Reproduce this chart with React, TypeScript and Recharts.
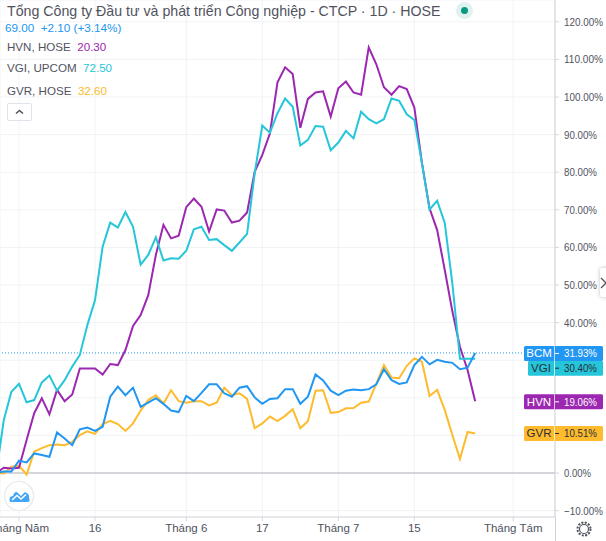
import React from "react";
import { ComposedChart, Line, XAxis, YAxis, CartesianGrid, ReferenceLine } from "recharts";

const bcmValues = [0, 0.4, 0.4, 3.3, 2.8, 5.2, 4.8, 4.3, 10.8, 9.2, 7.4, 11.6, 12.1, 11.2, 12.3, 20.3, 23, 20.7, 22.7, 17.6, 18.7, 19.9, 18.4, 16.6, 16.2, 20.5, 19.1, 21.3, 23.6, 23.6, 21.2, 20.3, 22.7, 23.1, 20.1, 18.4, 19.7, 19.9, 22.3, 22.3, 18.4, 20.3, 26.2, 24.6, 21.9, 20.7, 21.9, 22.2, 22, 22.3, 23.6, 27.6, 24.7, 23.7, 24.1, 28.7, 30.9, 28.9, 30.1, 29.6, 29.3, 27.6, 28, 31.93];
const vgiValues = [0, 14.1, 21.6, 23.7, 18.8, 19.4, 24.1, 25.9, 21.9, 24.7, 28.3, 31.4, 39.4, 46, 60.2, 66.6, 65.3, 69.4, 65.5, 55.4, 58, 62.7, 56.5, 57.1, 57, 59.1, 64.8, 65.5, 62, 62.2, 60.6, 59.1, 61.3, 63.6, 79.7, 92.4, 90.5, 95.7, 99.6, 97.4, 87.1, 88.6, 92.3, 92.1, 85.8, 87.9, 91, 89, 96.1, 94.1, 93, 94.1, 99.6, 99, 95.4, 93.9, 82.4, 70.1, 72.4, 66.5, 50.4, 30.4, 30.4, 30.4];
const hvnValues = [0, 1.4, 1.2, 1.4, 8.8, 15.9, 19.9, 15.6, 22.1, 19.1, 20.9, 27.8, 27.8, 27.8, 26.2, 29, 28.7, 32.7, 39.1, 42, 47.3, 58, 66, 62.4, 63.1, 70.7, 73, 70.8, 64.2, 70.1, 69.8, 66.6, 67.1, 69.3, 80.1, 84.6, 90.3, 103.9, 107.9, 106.1, 91.8, 99.5, 101.2, 101.5, 94.8, 102.3, 104.1, 101.2, 100.6, 113.2, 108.7, 102.6, 100.6, 102.9, 102.1, 97.2, 82.4, 70.4, 64.6, 54, 43, 33.5, 27.4, 19.06];
const gvrValues = [0, -0.1, 1.7, 1.9, -0.4, 5.7, 6.6, 7.4, 7.6, 7.4, 8.3, 10.1, 11.1, 10.4, 13, 13.9, 13, 11.2, 13.2, 16.6, 19.4, 20.7, 18.5, 22, 19.1, 18.7, 19.1, 19.1, 18, 18.7, 22.7, 20.7, 21.2, 19.7, 11.9, 13.2, 15, 13.8, 15.2, 17, 11.9, 13.8, 21.9, 22, 16, 16.2, 17.2, 17.3, 18.7, 19, 23.8, 28.7, 25.4, 25.2, 28.5, 30.5, 29.6, 20.5, 22.1, 16.8, 10.1, 3.7, 10.9, 10.51];

const xTickPositions = [3, 13, 25, 35, 45, 55, 68];
const xTickLabels = ["Tháng Năm", "16", "Tháng 6", "17", "Tháng 7", "15", "Tháng Tám"];
const yTicks = [-10, 0, 10, 20, 30, 40, 50, 60, 70, 80, 90, 100, 110, 120];
const yTicksCoveredByTags = [10, 20, 30];

const rows = bcmValues.map((bcm, i) => ({
  day: i,
  bcm,
  vgi: vgiValues[i],
  hvn: hvnValues[i],
  gvr: gvrValues[i],
}));

const FONT = "'Liberation Sans', Arial, sans-serif";
const BLUE = "#2196f3";
const CYAN = "#26c6da";
const PURPLE = "#9c27b0";
const YELLOW = "#fdbb2d";
const lastIndex = bcmValues.length - 1;

function tagLabel(name: string, text: string, color: string, ink: string, left: number, nudge: number) {
  return (props: any) => {
    if (props.index !== lastIndex) return null;
    const cy = props.y + nudge;
    return (
      <g key={name} style={{ fontFamily: FONT, fontSize: 11.5 }}>
        <rect x={left} y={cy - 7.5} width={603 - left} height={15} rx={1.5} fill={color} />
        <line x1={554.5} x2={554.5} y1={cy - 7.5} y2={cy + 7.5} stroke="#ffffff" strokeOpacity={0.7} />
        <line x1={555} x2={559} y1={cy} y2={cy} stroke={ink} />
        <text x={(left + 554) / 2} y={cy + 4} textAnchor="middle" fill={ink}>{name}</text>
        <text x={564} y={cy + 4} fill={ink} textLength={33} lengthAdjust="spacingAndGlyphs">{text}</text>
      </g>
    );
  };
}

const XTick = (props: any) => {
  const label = xTickLabels[xTickPositions.indexOf(props.payload.value)];
  return (
    <text x={props.x} y={532} textAnchor="middle" fontFamily={FONT} fontSize={11.5} fill="#50535e">{label}</text>
  );
};

const yLabelWidths: Record<number, number> = { 5: 27, 6: 33, 7: 39 };

const YTick = (props: any) => {
  if (yTicksCoveredByTags.includes(props.payload.value)) return <g />;
  const text = props.payload.value.toFixed(2).replace("-", "\u2212") + "%";
  return (
    <text x={564} y={props.y + 4} fontFamily={FONT} fontSize={11.5} fill="#50535e" textLength={yLabelWidths[text.length]} lengthAdjust="spacingAndGlyphs">
      {text}
    </text>
  );
};

const abs = (left: number, top: number, extra: React.CSSProperties = {}): React.CSSProperties => ({
  position: "absolute",
  left,
  top,
  whiteSpace: "nowrap",
  fontFamily: FONT,
  lineHeight: "16px",
  ...extra,
});

export default function App() {
  return (
    <div style={{ position: "relative", width: 606, height: 541, overflow: "hidden", background: "#fff" }}>
      <style>{"body{margin:0}"}</style>
      <ComposedChart width={606} height={541} data={rows} margin={{ top: 0, right: 0, bottom: 0, left: 0 }}>
        <CartesianGrid stroke="#f0f3f6" />
        <XAxis
          dataKey="day"
          type="number"
          domain={[0.5, 73.5]}
          allowDataOverflow
          ticks={xTickPositions}
          interval={0}
          tick={<XTick />}
          tickLine={{ stroke: "#d6d8dd" }}
          tickSize={4}
          axisLine={{ stroke: "#d6d8dd" }}
          height={24}
        />
        <YAxis
          orientation="right"
          width={51}
          type="number"
          domain={[-11.7, 125.8]}
          allowDataOverflow
          ticks={yTicks}
          interval={0}
          tick={<YTick />}
          tickLine={{ stroke: "#d6d8dd" }}
          tickSize={4}
          axisLine={{ stroke: "#cfd2d6" }}
        />
        <ReferenceLine y={0} stroke="#c8cad0" strokeWidth={1.5} />
        <ReferenceLine y={bcmValues[lastIndex]} stroke={BLUE} strokeDasharray="1 2" />
        <Line dataKey="gvr" stroke={YELLOW} strokeWidth={2} dot={false} isAnimationActive={false} label={tagLabel("GVR", "10.51%", YELLOW, "#2a2e39", 524, 0)} />
        <Line dataKey="hvn" stroke={PURPLE} strokeWidth={2} dot={false} isAnimationActive={false} label={tagLabel("HVN", "19.06%", PURPLE, "#ffffff", 524, 0.5)} />
        <Line dataKey="vgi" stroke={CYAN} strokeWidth={2} dot={false} isAnimationActive={false} label={tagLabel("VGI", "30.40%", CYAN, "#2a2e39", 528, 9.5)} />
        <Line dataKey="bcm" stroke={BLUE} strokeWidth={2} dot={false} isAnimationActive={false} label={tagLabel("BCM", "31.93%", BLUE, "#ffffff", 524, 0.5)} />
      </ComposedChart>

      <div style={{ position: "absolute", left: 555, top: 517, width: 1, height: 24, background: "#cfd2d6" }} />

      <div style={abs(7, 2, { fontSize: 14.2, color: "#50535e", lineHeight: "18px" })}>
        Tổng Công ty Đầu tư và phát triển Công nghiệp - CTCP · 1D · HOSE
      </div>
      <div style={{ position: "absolute", left: 456, top: 2, width: 17, height: 17, borderRadius: 9, background: "#dff2ef" }} />
      <div style={{ position: "absolute", left: 461, top: 7, width: 7, height: 7, borderRadius: 4, background: "#089981" }} />

      <div style={abs(5, 20, { fontSize: 11.7, color: BLUE })}>69.00&nbsp; +2.10 (+3.14%)</div>
      <div style={abs(7, 39, { fontSize: 11.6, color: "#50535e" })}>HVN, HOSE&nbsp; <span style={{ color: PURPLE }}>20.30</span></div>
      <div style={abs(7, 60, { fontSize: 11.6, color: "#50535e" })}>VGI, UPCOM&nbsp; <span style={{ color: CYAN }}>72.50</span></div>
      <div style={abs(7, 83, { fontSize: 11.6, color: "#50535e" })}>GVR, HOSE&nbsp; <span style={{ color: YELLOW }}>32.60</span></div>

      <div style={{ position: "absolute", left: 7, top: 103, width: 25, height: 18, boxSizing: "border-box", border: "1px solid #e0e3eb", borderRadius: 2, background: "#fff" }} />
      <svg style={{ position: "absolute", left: 7, top: 103 }} width={25} height={18}>
        <path d="M9 10.5 L12.5 7.5 L16 10.5" fill="none" stroke="#50535e" strokeWidth={1.5} />
      </svg>

      <svg style={{ position: "absolute", left: 3, top: 480 }} width={32} height={32}>
        <circle cx={16} cy={16} r={14.5} fill="#fff" stroke="#e8e9ec" strokeWidth={1.2} />
        <path d="M7 22 Q5 16 10 16 Q12 10 15 13 L18 16 L22 12 Q27 14 26 18 Q28 22 24 22 Z" fill="#42a5f5" />
        <path d="M9 20 L14 15.5 L18 19 L23 14.5" fill="none" stroke="#fff" strokeWidth={1.5} />
      </svg>

      <svg style={{ position: "absolute", left: 574, top: 519 }} width={20} height={20}>
        <circle cx={10} cy={10} r={4.5} fill="none" stroke="#50535e" strokeWidth={1.2} />
        <circle cx={10} cy={10} r={6.5} fill="none" stroke="#50535e" strokeWidth={2} strokeDasharray="2 1.4" />
      </svg>

      <div style={{ position: "absolute", left: 600, top: 268, width: 10, height: 29, background: "#fff", boxShadow: "0 0 4px rgba(0,0,0,0.25)", borderRadius: 2 }} />
      <svg style={{ position: "absolute", left: 600, top: 268 }} width={6} height={29}>
        <path d="M1 10 L6 15 L1 20" fill="none" stroke="#50535e" strokeWidth={1.3} />
      </svg>
    </div>
  );
}
